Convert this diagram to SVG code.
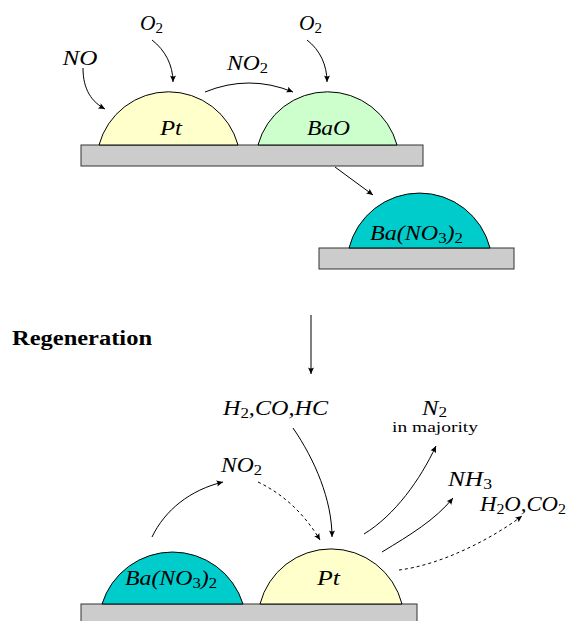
<svg xmlns="http://www.w3.org/2000/svg" width="566" height="621" viewBox="0 0 566 621">
<style>
.bar{fill:#cccccc;stroke:#333333;stroke-width:1}
.dome{stroke:#000000;stroke-width:1}
.pt{fill:#ffffcc}
.bao{fill:#ccffcc}
.ban{fill:#00cccc}
.m{font-family:'Liberation Serif','Times New Roman',Tinos,'DejaVu Serif',serif;font-style:italic;font-size:20px;fill:#000}
.s{font-style:normal;font-size:14px}
.r{font-family:'Liberation Serif','Times New Roman',Tinos,'DejaVu Serif',serif;font-size:14px;fill:#000}
.b{font-family:'Liberation Serif','Times New Roman',Tinos,'DejaVu Serif',serif;font-weight:bold;font-size:20px;fill:#000}
.c{fill:none;stroke:#000;stroke-width:1}
.d{stroke-dasharray:3,3}
</style>
<defs>
<marker id="ah" markerWidth="10" markerHeight="10" refX="0" refY="0" viewBox="-8 -5 10 10" orient="auto" markerUnits="userSpaceOnUse">
<path d="M0,0 L-6.5,-3 Q-4.5,0 -6.5,3 Z" fill="#000"/>
</marker>
</defs>

<g id="substrate-top">
<rect class="bar" x="81" y="145" width="342" height="21"/>
</g>
<g id="pt-top">
<path class="dome pt" d="M99,145 A72,72 0 0 1 238,145 Z"/>
<text class="m" font-family="Liberation Serif, serif" x="171" y="135" text-anchor="middle" textLength="22" lengthAdjust="spacingAndGlyphs">Pt</text>
</g>
<g id="bao-top">
<path class="dome bao" d="M258,145 A72,72 0 0 1 397,145 Z"/>
<text class="m" x="328.5" y="135" text-anchor="middle" textLength="43" lengthAdjust="spacingAndGlyphs">BaO</text>
</g>
<g id="no-label"><text class="m" x="80" y="65" text-anchor="middle" textLength="35" lengthAdjust="spacingAndGlyphs">NO</text></g>
<g id="o2-left"><text class="m" x="151.5" y="30" text-anchor="middle" textLength="23" lengthAdjust="spacingAndGlyphs">O<tspan class="s" dy="3">2</tspan></text></g>
<g id="no2-top"><text class="m" x="247.5" y="70" text-anchor="middle" textLength="41" lengthAdjust="spacingAndGlyphs">NO<tspan class="s" dy="3">2</tspan></text></g>
<g id="o2-right"><text class="m" x="310.5" y="30" text-anchor="middle" textLength="23" lengthAdjust="spacingAndGlyphs">O<tspan class="s" dy="3">2</tspan></text></g>

<g id="substrate-nitrate">
<rect class="bar" x="319" y="248" width="195" height="21"/>
</g>
<g id="banitrate-top">
<path class="dome ban" d="M349,248 A72.7,72.7 0 0 1 490,248 Z"/>
<text class="m" x="416.5" y="240" text-anchor="middle" textLength="93" lengthAdjust="spacingAndGlyphs">Ba(NO<tspan class="s" dy="3">3</tspan><tspan dy="-3">)</tspan><tspan class="s" dy="3">2</tspan></text>
</g>

<g id="regeneration"><text class="b" x="12" y="345" textLength="140" lengthAdjust="spacingAndGlyphs">Regeneration</text></g>

<g id="substrate-bottom">
<rect class="bar" x="81" y="604" width="336" height="22"/>
</g>
<g id="banitrate-bottom">
<path class="dome ban" d="M102,604 A73.8,73.8 0 0 1 243,604 Z"/>
<text class="m" x="171" y="585" text-anchor="middle" textLength="92" lengthAdjust="spacingAndGlyphs">Ba(NO<tspan class="s" dy="3">3</tspan><tspan dy="-3">)</tspan><tspan class="s" dy="3">2</tspan></text>
</g>
<g id="pt-bottom">
<path class="dome pt" d="M260,604 A73.3,73.3 0 0 1 402,604 Z"/>
<text class="m" x="328.5" y="585" text-anchor="middle" textLength="23" lengthAdjust="spacingAndGlyphs">Pt</text>
</g>
<g id="reductants"><text class="m" x="275.5" y="415" text-anchor="middle" textLength="105" lengthAdjust="spacingAndGlyphs">H<tspan class="s" dy="3">2</tspan><tspan dy="-3">,CO,HC</tspan></text></g>
<g id="no2-bottom"><text class="m" x="241.5" y="472" text-anchor="middle" textLength="41" lengthAdjust="spacingAndGlyphs">NO<tspan class="s" dy="3">2</tspan></text></g>
<g id="n2">
<text class="m" x="434.5" y="415" text-anchor="middle" textLength="25" lengthAdjust="spacingAndGlyphs">N<tspan class="s" dy="2">2</tspan></text>
<text class="r" x="435" y="432" text-anchor="middle" textLength="86" lengthAdjust="spacingAndGlyphs">in majority</text>
</g>
<g id="nh3"><text class="m" x="470" y="486" text-anchor="middle" textLength="44" lengthAdjust="spacingAndGlyphs">NH<tspan class="s" dy="3">3</tspan></text></g>
<g id="h2o-co2"><text class="m" x="480" y="511" textLength="86" lengthAdjust="spacingAndGlyphs">H<tspan class="s" dy="3">2</tspan><tspan dy="-3">O,CO</tspan><tspan class="s" dy="3">2</tspan></text></g>

<g id="connectors">
<path class="c" marker-end="url(#ah)" d="M83,68 C83,90 92,102 105,109"/>
<path class="c" marker-end="url(#ah)" d="M152,40 C165,50 173,65 173,82"/>
<path class="c" marker-end="url(#ah)" d="M205,92 Q249,74 293,92"/>
<path class="c" marker-end="url(#ah)" d="M307,40 C320,50 327,65 327,82"/>
<path class="c" marker-end="url(#ah)" d="M335,167 L373,195"/>
<path class="c" marker-end="url(#ah)" d="M311,315 L311,374"/>
<path class="c" marker-end="url(#ah)" d="M152,537 C165,510 190,490 223,482"/>
<path class="c d" marker-end="url(#ah)" d="M258,482 C285,495 305,515 320,540"/>
<path class="c" marker-end="url(#ah)" d="M293,428 C315,460 332,500 332,537"/>
<path class="c" marker-end="url(#ah)" d="M364,534 C395,515 420,480 436,446"/>
<path class="c" marker-end="url(#ah)" d="M382,552 C410,535 435,520 453,498"/>
<path class="c d" marker-end="url(#ah)" d="M399,570 C440,565 490,540 522,516"/>
</g>
</svg>
